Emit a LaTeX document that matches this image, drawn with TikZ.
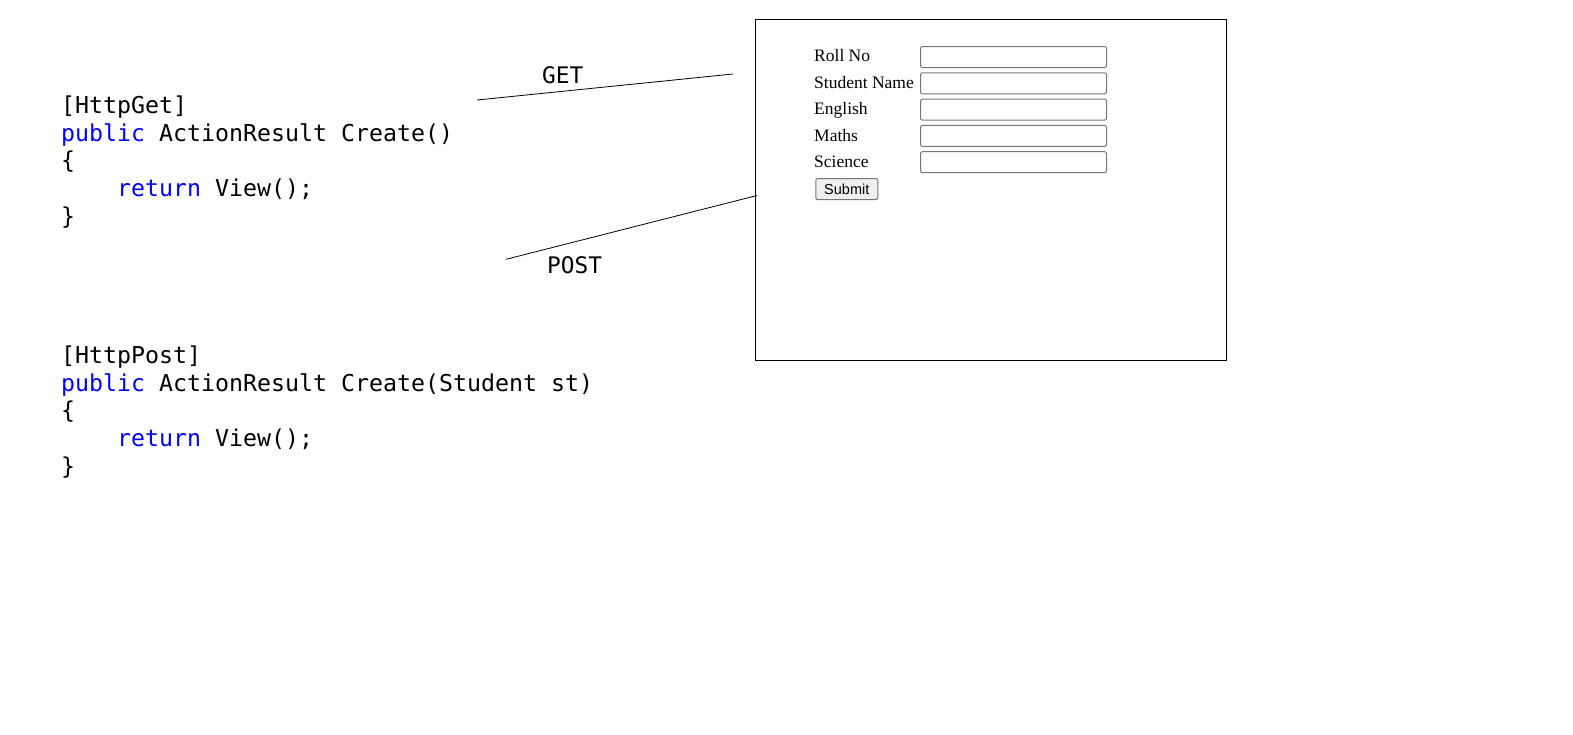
\documentclass[tikz,border=0pt]{standalone}
\usepackage{fontspec}
\setmainfont{Liberation Serif}
\setsansfont{Liberation Sans}
\setmonofont{DejaVu Sans Mono}
\usetikzlibrary{positioning}

\definecolor{keyword}{RGB}{0,0,255}
\definecolor{fieldgray}{RGB}{118,118,118}
\definecolor{btnfill}{RGB}{239,239,239}

\newcommand{\kw}[1]{\textcolor{keyword}{#1}}

\begin{document}
\begin{tikzpicture}[x=1pt,y=-1pt,
		code/.style={font=\ttfamily\fontsize{23.25}{28}\selectfont,anchor=base west,inner sep=0pt},
		verb/.style={font=\ttfamily\fontsize{22.8}{27}\selectfont,anchor=base west,inner sep=0pt},
		fieldname/.style={font=\fontsize{17.5}{21}\selectfont,anchor=base west,inner sep=0pt},
		inputbox/.style={draw=fieldgray,line width=1pt,rounded corners=2pt,minimum width=186pt,minimum height=21pt,anchor=north west,inner sep=0pt},
		submitbtn/.style={draw=fieldgray,fill=btnfill,line width=1pt,rounded corners=2pt,minimum width=62pt,minimum height=21pt,anchor=north west,inner sep=0pt,font=\sffamily\fontsize{14.5}{17}\selectfont},
		wire/.style={line width=0.8pt}]
		\useasboundingbox (0,0) rectangle (1573,734);
		
		% GET action
		\node[code] (getattr) at (61,113.3) {[HttpGet]};
		\node[code] (getsig) at (61,141) {\kw{public} ActionResult Create()};
		\node[code] (getopen) at (61,168.7) {\{};
		\node[code] (getret) at (61,196.4) {\hphantom{0000}\kw{return} View();};
		\node[code] (getclose) at (61,224) {\}};
		
		% POST action
		\node[code] (postattr) at (61,363.3) {[HttpPost]};
		\node[code] (postsig) at (61,391) {\kw{public} ActionResult Create(Student st)};
		\node[code] (postopen) at (61,418.7) {\{};
		\node[code] (postret) at (61,446.4) {\hphantom{0000}\kw{return} View();};
		\node[code] (postclose) at (61,474) {\}};
		
		% the page with the form
		\node[draw,line width=1pt,minimum width=471pt,minimum height=341pt,anchor=north west,inner sep=0pt] (page) at (755,19.3) {};
		
		\node[fieldname] (rolllbl) at (814,61.7) {Roll No};
		\node[fieldname] (namelbl) at (814,88.2) {Student Name};
		\node[fieldname] (englbl) at (814,114.7) {English};
		\node[fieldname] (mathlbl) at (814,141.2) {Maths};
		\node[fieldname] (scilbl) at (814,167.7) {Science};
		
		\node[inputbox] (rollbox) at (920,46) {};
		\node[inputbox] (namebox) at (920,72.3) {};
		\node[inputbox] (engbox) at (920,98.6) {};
		\node[inputbox] (mathbox) at (920,124.9) {};
		\node[inputbox] (scibox) at (920,151.2) {};
		
		\node[submitbtn] (submit) at (815.3,178) {Submit};
		
		% requests
		\coordinate (getfrom) at (477,100);
		\coordinate (getto) at (733,74);
		\coordinate (postfrom) at (506,259.3);
		\coordinate (postto) at (757,195.5);
		\draw[wire] (getfrom) -- (getto);
		\draw[wire] (postfrom) -- (postto);
		\node[verb] (getlbl) at (542,83.3) {GET};
		\node[verb] (postlbl) at (547,273.5) {POST};
	\end{tikzpicture}
\end{document}
